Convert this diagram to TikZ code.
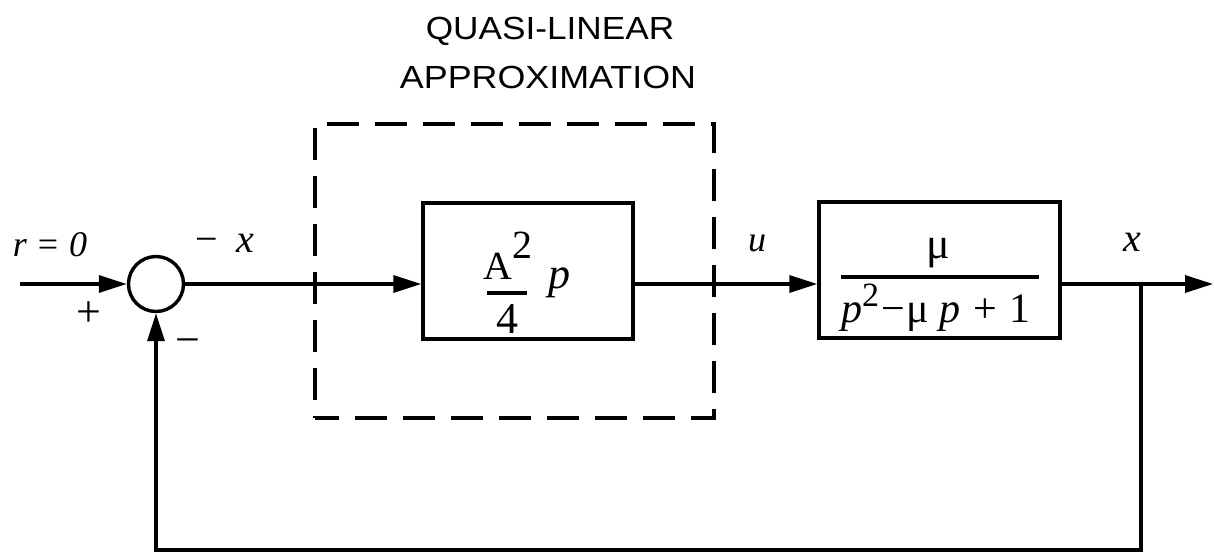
\documentclass[tikz,border=0pt]{standalone}
\usepackage{fontspec}
\setmainfont{Liberation Serif}
\setsansfont{Liberation Sans}
\usepackage{graphicx}
\usetikzlibrary{arrows.meta}
\begin{document}
\begin{tikzpicture}[x=0.5pt,y=-0.5pt,
  wire/.style={line width=1.7pt},
  arr/.style={wire,-{Triangle[length=14pt,width=8.5pt]}},
  blockbox/.style={draw,line width=1.7pt,rectangle,minimum height=68pt,inner sep=0pt},
  lab/.style={inner sep=0pt,font=\fontsize{18}{21}\selectfont},
  biglab/.style={inner sep=0pt,font=\fontsize{20}{24}\selectfont},
  ttl/.style={inner sep=0pt,anchor=base,font=\sffamily\fontsize{16}{19}\selectfont},
  fracbar/.style={line width=1.7pt}]
\useasboundingbox (0,0) rectangle (1214,552);
% title
\node[ttl] (t1) at (550,39) {\scalebox{1.1}[1]{QUASI-LINEAR}};
\node[ttl] (t2) at (548,88) {\scalebox{1.12}[1]{APPROXIMATION}};
% dashed region
\node[draw,line width=1.8pt,dash pattern=on 16pt off 8pt,dash phase=4pt,
      minimum width=199.5pt,minimum height=147pt,inner sep=0pt] (qla) at (514.5,271) {};
% blocks
\node[blockbox,minimum width=105pt] (g1) at (528,271) {};
\node[blockbox,minimum width=120.5pt] (g2) at (939.5,270) {};
% summing junction
\node[draw,circle,line width=1.7pt,minimum size=27.5pt,inner sep=0pt] (sum) at (156,284) {};
% formula in g1
\node[biglab] (fa) at (498,266) {A};
\node[biglab] (f2) at (522,245) {2};
\draw[fracbar] (487,293) -- (527,293);
\node[biglab,font=\fontsize{22}{26}\selectfont] (f4) at (507,319) {4};
\node[biglab,font=\fontsize{22}{26}\selectfont] (fp) at (559,283) {\textit{p}};
% formula in g2
\node[biglab,font=\fontsize{22}{26}\selectfont] (mu) at (938,253) {μ};
\draw[fracbar] (841,277) -- (1039,277);
\node[biglab,font=\fontsize{21}{25}\selectfont,anchor=base] (den) at (936,322) {\textit{p}\textsuperscript{\fontsize{17}{20}\selectfont 2}\hspace{0.02em}−\hspace{0.05em}μ\hspace{0.25em}\textit{p}\hspace{0.3em}+\hspace{0.3em}1};
% coordinates
\coordinate (in) at (20,284);
\coordinate (br) at (1141,284);
\coordinate (out) at (1213,284);
\coordinate (fb1) at (1141,550);
\coordinate (fb2) at (156,550);
% connectors
\draw[arr] (in) -- (sum.west);
\draw[arr] (sum.east) -- (sum.east -| g1.west);
\draw[arr] (sum.east -| g1.east) -- (sum.east -| g2.west);
\draw[arr] (sum.east -| g2.east) -- (out);
\draw[arr] (br) -- (fb1) -- (fb2) -- (sum.south);
% labels
\node[lab] (lr) at (50,245) {\textit{r}\hspace{0.3em}=\hspace{0.3em}\textit{0}};
\node[lab,font=\fontsize{22}{26}\selectfont] (lplus) at (89,314) {+};
\node[lab,font=\fontsize{22}{26}\selectfont] (lminus) at (188,347) {−};
\node[biglab] (lx1) at (225,243) {−\hspace{0.45em}\textit{x}};
\node[lab] (lu) at (757,243) {\textit{u}};
\node[biglab] (lx2) at (1132,242) {\textit{x}};
\end{tikzpicture}
\end{document}
